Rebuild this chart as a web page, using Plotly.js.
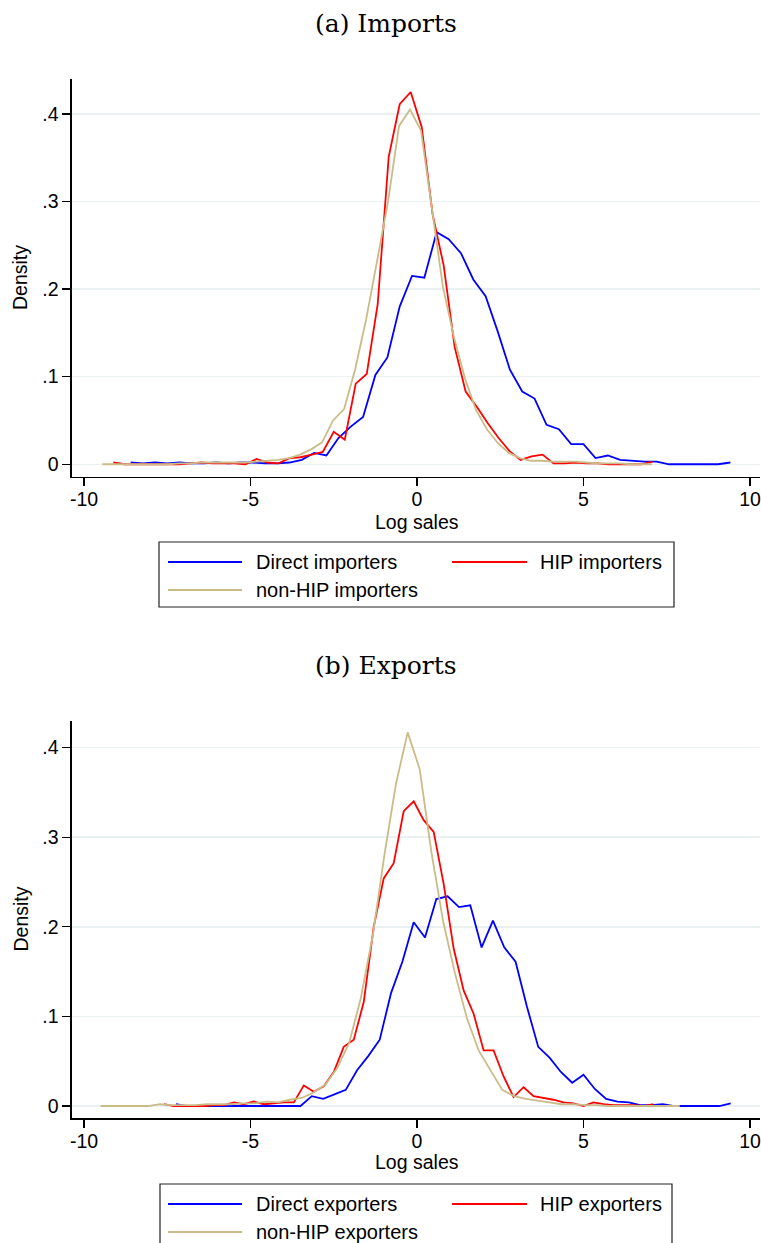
<!DOCTYPE html>
<html>
<head>
<meta charset="utf-8">
<script src="https://cdn.plot.ly/plotly-3.0.1.min.js"></script>
<style>
  html, body { margin: 0; padding: 0; background: #fff; }
  #chart { width: 761px; height: 1243px; }
</style>
</head>
<body>
<div id="chart"></div>
<script>
// ---- (a) Imports ----
const impDirectX = [-8.6, -8.23, -7.87, -7.5, -7.13, -6.77, -6.4, -6.03, -5.66, -5.3, -4.93, -4.56, -4.19, -3.83,
  -3.46, -3.09, -2.72, -2.36, -1.99, -1.62, -1.25, -0.89, -0.52, -0.15, 0.22, 0.59, 0.95, 1.32, 1.69, 2.06,
  2.42, 2.79, 3.16, 3.53, 3.89, 4.26, 4.63, 5.0, 5.36, 5.73, 6.1, 6.47, 6.83, 7.2, 7.57, 7.94, 8.3, 8.67, 9.04, 9.41];
const impDirectY = [0.002, 0.001, 0.002, 0.001, 0.002, 0.001, 0.001, 0.002, 0.001, 0.002, 0.002, 0.001, 0.001, 0.002,
  0.005, 0.013, 0.010, 0.030, 0.043, 0.054, 0.102, 0.122, 0.180, 0.215, 0.213, 0.265, 0.257, 0.241, 0.211, 0.192,
  0.152, 0.108, 0.083, 0.075, 0.045, 0.040, 0.023, 0.023, 0.007, 0.010, 0.005, 0.004, 0.003, 0.003, 0.0, 0.0, 0.0, 0.0, 0.0, 0.002];

const impHipX = [-9.12, -8.79, -8.46, -8.13, -7.8, -7.46, -7.13, -6.8, -6.47, -6.14, -5.81, -5.48, -5.15, -4.82,
  -4.49, -4.16, -3.83, -3.5, -3.16, -2.83, -2.5, -2.17, -1.84, -1.51, -1.18, -0.85, -0.52, -0.19, 0.14, 0.47,
  0.8, 1.13, 1.46, 1.79, 2.12, 2.45, 2.78, 3.11, 3.44, 3.77, 4.1, 4.43, 4.76, 5.09, 5.42, 5.75, 6.08, 6.41, 6.74, 7.07];
const impHipY = [0.002, 0.0, 0.0, 0.0, 0.0, 0.0, 0.0, 0.001, 0.002, 0.001, 0.001, 0.001, 0.0, 0.006,
  0.002, 0.001, 0.007, 0.008, 0.011, 0.014, 0.037, 0.028, 0.092, 0.103, 0.183, 0.351, 0.411, 0.425, 0.385, 0.285,
  0.227, 0.134, 0.083, 0.066, 0.047, 0.030, 0.015, 0.005, 0.009, 0.011, 0.001, 0.001, 0.002, 0.001, 0.001, 0.0, 0.0, 0.0, 0.0, 0.003];

const impNonX = [-9.45, -9.12, -8.79, -8.46, -8.13, -7.8, -7.47, -7.14, -6.81, -6.48, -6.15, -5.82, -5.49, -5.16,
  -4.83, -4.5, -4.17, -3.84, -3.51, -3.18, -2.85, -2.52, -2.19, -1.86, -1.53, -1.2, -0.87, -0.54, -0.21, 0.12,
  0.45, 0.78, 1.11, 1.44, 1.77, 2.1, 2.43, 2.76, 3.09, 3.42, 3.75, 4.08, 4.41, 4.74, 5.07, 5.4, 5.73, 6.06, 6.39, 6.72, 7.05];
const impNonY = [0.0, 0.0, 0.0, 0.0, 0.0, 0.0, 0.0, 0.001, 0.001, 0.002, 0.002, 0.002, 0.002, 0.002,
  0.003, 0.004, 0.005, 0.007, 0.011, 0.017, 0.025, 0.050, 0.063, 0.108, 0.165, 0.232, 0.300, 0.386, 0.405, 0.381,
  0.290, 0.202, 0.145, 0.098, 0.062, 0.040, 0.024, 0.013, 0.007, 0.004, 0.004, 0.003, 0.003, 0.003, 0.002, 0.001, 0.001, 0.001, 0.0, 0.0, 0.0];

// ---- (b) Exports ----
const expDirectX = [-7.24, -6.9, -6.56, -6.22, -5.88, -5.54, -5.2, -4.86, -4.52, -4.18, -3.84, -3.5, -3.16, -2.82,
  -2.48, -2.14, -1.8, -1.46, -1.12, -0.78, -0.44, -0.1, 0.24, 0.58, 0.92, 1.26, 1.6, 1.94, 2.28, 2.62,
  2.96, 3.3, 3.64, 3.98, 4.32, 4.66, 5.0, 5.34, 5.68, 6.02, 6.36, 6.7, 7.04, 7.38, 7.72, 8.06, 8.4, 8.74, 9.08, 9.42];
const expDirectY = [0.002, 0.0, 0.0, 0.0, 0.0, 0.0, 0.0, 0.0, 0.0, 0.0, 0.0, 0.0, 0.011, 0.008,
  0.013, 0.018, 0.040, 0.056, 0.074, 0.126, 0.161, 0.205, 0.188, 0.231, 0.234, 0.222, 0.224, 0.177, 0.207, 0.177,
  0.161, 0.111, 0.066, 0.054, 0.038, 0.026, 0.035, 0.019, 0.008, 0.005, 0.004, 0.001, 0.001, 0.002, 0.0, 0.0, 0.0, 0.0, 0.0, 0.003];

const expHipX = [-7.6, -7.3, -7.0, -6.7, -6.4, -6.1, -5.8, -5.5, -5.2, -4.9, -4.6, -4.3, -4.0, -3.7,
  -3.4, -3.1, -2.8, -2.5, -2.2, -1.9, -1.6, -1.3, -1.0, -0.7, -0.4, -0.1, 0.2, 0.5, 0.8, 1.1,
  1.4, 1.7, 2.0, 2.3, 2.6, 2.9, 3.2, 3.5, 3.8, 4.1, 4.4, 4.7, 5.0, 5.3, 5.6, 5.9, 6.2, 6.5, 6.8, 7.1];
const expHipY = [0.002, 0.0, 0.0, 0.0, 0.0, 0.001, 0.001, 0.004, 0.002, 0.005, 0.002, 0.003, 0.004, 0.004,
  0.023, 0.016, 0.022, 0.038, 0.066, 0.074, 0.116, 0.200, 0.254, 0.271, 0.329, 0.340, 0.319, 0.306, 0.248, 0.176,
  0.129, 0.103, 0.062, 0.062, 0.033, 0.010, 0.021, 0.011, 0.009, 0.007, 0.004, 0.003, 0.0, 0.004, 0.002, 0.001, 0.001, 0.001, 0.0, 0.002];

const expNonX = [-9.5, -9.14, -8.79, -8.43, -8.08, -7.72, -7.37, -7.01, -6.66, -6.3, -5.95, -5.59, -5.24, -4.88,
  -4.53, -4.17, -3.82, -3.46, -3.11, -2.75, -2.4, -2.04, -1.69, -1.33, -0.98, -0.63, -0.28, 0.08, 0.43, 0.79,
  1.14, 1.5, 1.85, 2.21, 2.56, 2.92, 3.27, 3.63, 3.98, 4.34, 4.69, 5.05, 5.4, 5.76, 6.11, 6.47, 6.82, 7.18, 7.53, 7.89];
const expNonY = [0.0, 0.0, 0.0, 0.0, 0.0, 0.002, 0.001, 0.001, 0.001, 0.002, 0.002, 0.002, 0.003, 0.003,
  0.005, 0.004, 0.007, 0.009, 0.015, 0.024, 0.042, 0.070, 0.120, 0.190, 0.280, 0.360, 0.417, 0.376, 0.284, 0.205,
  0.148, 0.098, 0.062, 0.040, 0.018, 0.011, 0.008, 0.006, 0.004, 0.002, 0.002, 0.001, 0.001, 0.0, 0.0, 0.0, 0.0, 0.0, 0.0, 0.0];

// ---- labels ----
const xTickVals = [-10, -5, 0, 5, 10];
const xTickText = ['-10', '-5', '0', '5', '10'];
const yTickVals = [0, 0.1, 0.2, 0.3, 0.4];
const yTickText = ['0', '.1', '.2', '.3', '.4'];
const panelTitles = ['(a) Imports', '(b) Exports'];
const impNames = ['Direct importers', 'HIP importers', 'non-HIP importers'];
const expNames = ['Direct exporters', 'HIP exporters', 'non-HIP exporters'];
const seriesColors = ['#0000ff', '#ff0000', '#cbbb88'];

const pageW = 761, pageH = 1243;
const sans = 'Liberation Sans, Arial, sans-serif';
const serif = 'DejaVu Serif, serif';

function px(x) { return x / pageW; }
function py(y) { return 1 - y / pageH; }

function lineTrace(x, y, color, xa, ya) {
  return {
    x: x, y: y, xaxis: xa, yaxis: ya,
    type: 'scatter', mode: 'lines',
    line: { color: color, width: 1.8 },
    showlegend: false, hoverinfo: 'skip'
  };
}

function xAxis(anchor) {
  return {
    domain: [px(71.7), px(760)], range: [-10.37, 10.3], anchor: anchor,
    tickvals: xTickVals, ticktext: xTickText,
    ticks: 'outside', ticklen: 8, tickwidth: 1.3, tickcolor: '#000',
    ticklabelstandoff: -3, ticklabeloverflow: 'allow',
    showline: true, linecolor: '#000', linewidth: 1.3,
    showgrid: false, zeroline: false,
    tickfont: { family: sans, size: 19.5, color: '#000' }
  };
}

function yAxis(anchor, top, bottom, range) {
  return {
    domain: [py(bottom), py(top)], range: range, anchor: anchor,
    tickvals: yTickVals, ticktext: yTickText,
    ticks: 'outside', ticklen: 8, tickwidth: 1.3, tickcolor: '#000',
    showline: true, linecolor: '#000', linewidth: 1.3,
    showgrid: true, gridcolor: '#e9f1f3', gridwidth: 1.5, zeroline: false,
    tickfont: { family: sans, size: 19.5, color: '#000' }
  };
}

// stata-like legend box: two columns, third entry on a second row
function legendBox(names, top, left, right, bottom) {
  const shapes = [{
    type: 'rect', xref: 'paper', yref: 'paper',
    x0: px(left), x1: px(right), y0: py(bottom), y1: py(top),
    line: { color: '#222', width: 1.2 }, fillcolor: 'rgba(0,0,0,0)'
  }];
  const annotations = [];
  const cols = [[168, 242, 254], [452, 527, 538]];
  const rows = [top + 20, top + 48];
  names.forEach((name, i) => {
    const c = cols[i % 2], r = rows[Math.floor(i / 2)];
    shapes.push({
      type: 'line', xref: 'paper', yref: 'paper',
      x0: px(c[0]), x1: px(c[1]), y0: py(r), y1: py(r),
      line: { color: seriesColors[i], width: 1.8 }
    });
    annotations.push({
      xref: 'paper', yref: 'paper', x: px(c[2]), y: py(r),
      xanchor: 'left', yanchor: 'middle', showarrow: false,
      text: name, font: { family: sans, size: 20, color: '#000' }
    });
  });
  return { shapes: shapes, annotations: annotations };
}

function textNote(text, x, y, font, angle) {
  return {
    xref: 'paper', yref: 'paper', x: px(x), y: py(y),
    xanchor: 'center', yanchor: 'middle', showarrow: false,
    text: text, font: font, textangle: angle || 0
  };
}

const data = [
  lineTrace(impDirectX, impDirectY, seriesColors[0], 'x', 'y'),
  lineTrace(impHipX, impHipY, seriesColors[1], 'x', 'y'),
  lineTrace(impNonX, impNonY, seriesColors[2], 'x', 'y'),
  lineTrace(expDirectX, expDirectY, seriesColors[0], 'x2', 'y2'),
  lineTrace(expHipX, expHipY, seriesColors[1], 'x2', 'y2'),
  lineTrace(expNonX, expNonY, seriesColors[2], 'x2', 'y2')
];

const legTop = legendBox(impNames, 542, 159, 674, 607);
const legBot = legendBox(expNames, 1184, 160, 672, 1252);

const titleFont = { family: serif, size: 25, color: '#000' };
const axisFont = { family: sans, size: 19.5, color: '#000' };

const annotations = [
  textNote(panelTitles[0], 386, 23, titleFont),
  textNote(panelTitles[1], 386, 666, titleFont),
  textNote('Log sales', 417, 522, axisFont),
  textNote('Log sales', 417, 1162, axisFont),
  textNote('Density', 20, 278, axisFont, -90),
  textNote('Density', 20, 919.5, axisFont, -90)
].concat(legTop.annotations, legBot.annotations);

const layout = {
  width: pageW, height: pageH,
  margin: { l: 0, r: 0, t: 0, b: 0 },
  paper_bgcolor: '#fff', plot_bgcolor: '#fff',
  showlegend: false,
  xaxis: xAxis('y'),
  yaxis: yAxis('x', 79.3, 476.7, [-0.0142, 0.4395]),
  xaxis2: xAxis('y2'),
  yaxis2: yAxis('x2', 720.7, 1118.3, [-0.0137, 0.430]),
  shapes: legTop.shapes.concat(legBot.shapes),
  annotations: annotations
};

Plotly.newPlot('chart', data, layout, { staticPlot: true, displayModeBar: false });
</script>
</body>
</html>
